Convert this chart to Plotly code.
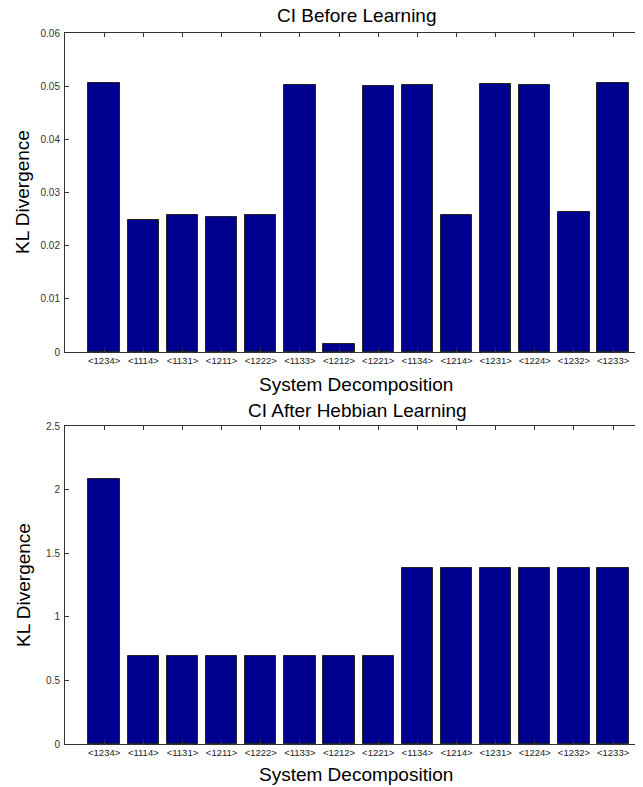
import plotly.graph_objects as go

# ---- data ----
categories = ["<1234>", "<1114>", "<1131>", "<1211>", "<1222>", "<1133>", "<1212>",
              "<1221>", "<1134>", "<1214>", "<1231>", "<1224>", "<1232>", "<1233>"]
kl_before = [0.0506, 0.0248, 0.0258, 0.0254, 0.0258, 0.0503, 0.0015,
             0.0501, 0.0503, 0.0258, 0.0505, 0.0503, 0.0263, 0.0506]
kl_after = [2.08, 0.693, 0.693, 0.693, 0.693, 0.693, 0.693,
            0.693, 1.386, 1.386, 1.386, 1.386, 1.386, 1.386]
before_ticks = [0, 0.01, 0.02, 0.03, 0.04, 0.05, 0.06]
before_ticklabels = ["0", "0.01", "0.02", "0.03", "0.04", "0.05", "0.06"]
after_ticks = [0, 0.5, 1, 1.5, 2, 2.5]
after_ticklabels = ["0", "0.5", "1", "1.5", "2", "2.5"]
title_before = "CI Before Learning"
title_after = "CI After Hebbian Learning"
x_title = "System Decomposition"
y_title = "KL Divergence"

# page body has an 8px margin: build the figure 8px smaller and shift coordinates
OFF = 8
W, H = 643 - OFF, 787 - OFF
positions = list(range(1, len(categories) + 1))
ticktext = [c.replace("<", "&lt;").replace(">", "&gt;") for c in categories]

BAR = "#000090"
AX = "#333333"
FONT = "Liberation Sans, Arial, Helvetica, sans-serif"

fig = go.Figure()
fig.add_trace(go.Bar(x=positions, y=kl_before, width=0.8, marker_color=BAR,
                     marker_line_color="#222222", marker_line_width=1,
                     xaxis="x", yaxis="y", showlegend=False))
fig.add_trace(go.Bar(x=positions, y=kl_after, width=0.8, marker_color=BAR,
                     marker_line_color="#222222", marker_line_width=1,
                     xaxis="x2", yaxis="y2", showlegend=False))

LEFT = 65 - OFF
xdom = [LEFT / W, 1.0]
xr = [0, (W - LEFT) / 39.15]

def yd(top_px, bot_px):
    return [1 - (bot_px - OFF) / H, 1 - (top_px - OFF) / H]

common_x = dict(range=xr, tickmode="array", tickvals=positions, ticktext=ticktext,
                ticks="inside", ticklen=4, tickcolor=AX, showline=True, linecolor=AX,
                linewidth=1, mirror="ticks", showgrid=False, zeroline=False,
                tickfont=dict(family=FONT, size=9.5, color="#222222"),
                automargin=False, fixedrange=True, ticklabelstandoff=0)
common_y = dict(ticks="inside", ticklen=4, tickcolor=AX, showline=True, linecolor=AX,
                linewidth=1, mirror=False, showgrid=False, zeroline=False,
                tickfont=dict(family=FONT, size=10, color="#333333"),
                automargin=False, tickmode="array", ticklabelstandoff=2)

fig.update_layout(
    width=W, height=H,
    margin=dict(l=0, r=0, t=0, b=0),
    paper_bgcolor="white", plot_bgcolor="white",
    bargap=0,
    xaxis=dict(domain=xdom, anchor="y", **common_x),
    yaxis=dict(domain=yd(33, 352), anchor="x", range=[0, 0.06],
               tickvals=before_ticks, ticktext=before_ticklabels, **common_y),
    xaxis2=dict(domain=xdom, anchor="y2", **common_x),
    yaxis2=dict(domain=yd(426, 744), anchor="x2", range=[0, 2.5],
                tickvals=after_ticks, ticktext=after_ticklabels, **common_y),
)

def ann(text, xpx, ypx, angle=0):
    fig.add_annotation(text=text, x=(xpx - OFF) / W, y=1 - (ypx - OFF) / H,
                       xref="paper", yref="paper",
                       showarrow=False, textangle=angle, xanchor="center", yanchor="middle",
                       font=dict(family=FONT, size=19, color="black"))

ann(title_before, 357, 16)
ann(x_title, 356, 384)
ann(title_after, 357, 410)
ann(x_title, 356, 774)
ann(y_title, 23, 192, -90)
ann(y_title, 23, 585, -90)

fig.write_html("out.html")
